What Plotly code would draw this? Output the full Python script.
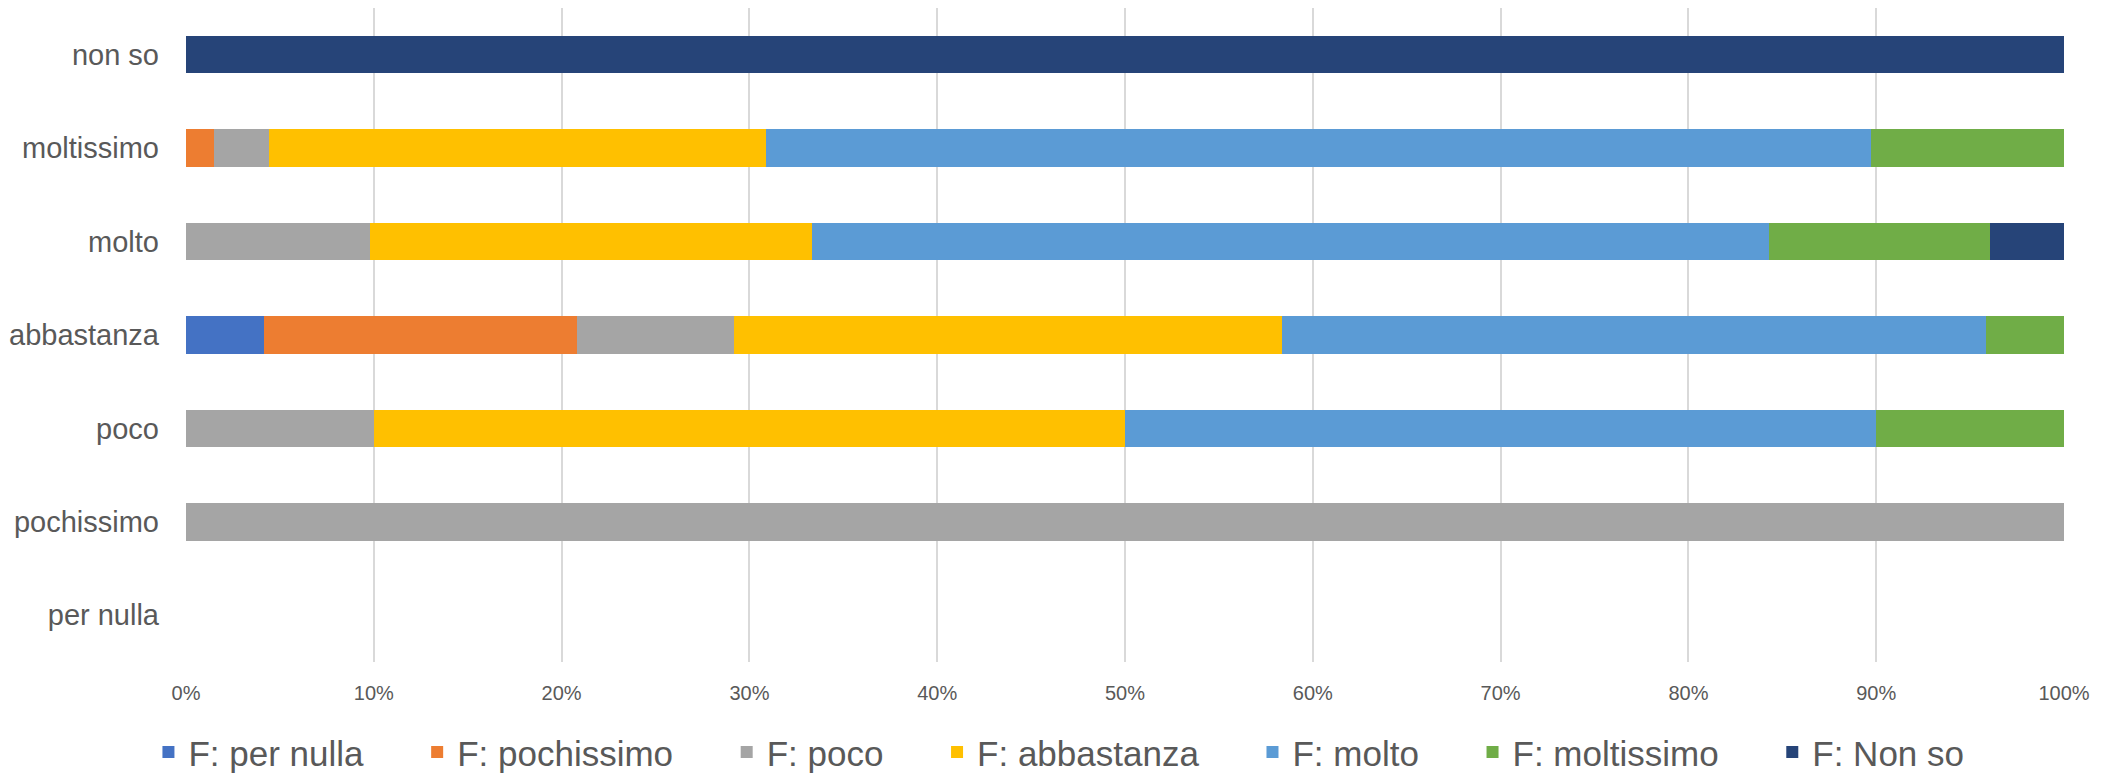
import plotly.graph_objects as go

categories = ["per nulla", "pochissimo", "poco", "abbastanza", "molto", "moltissimo", "non so"]

series_names = ["F: per nulla", "F: pochissimo", "F: poco", "F: abbastanza",
                "F: molto", "F: moltissimo", "F: Non so"]

per_nulla   = [0, 0, 0, 4.17, 0, 0, 0]
pochissimo  = [0, 0, 0, 16.67, 0, 1.47, 0]
poco        = [0, 100, 10, 8.33, 9.80, 2.94, 0]
abbastanza  = [0, 0, 40, 29.17, 23.53, 26.47, 0]
molto       = [0, 0, 40, 37.50, 50.98, 58.82, 0]
moltissimo  = [0, 0, 10, 4.17, 11.76, 10.29, 0]
non_so      = [0, 0, 0, 0, 3.92, 0, 100]

series_values = [per_nulla, pochissimo, poco, abbastanza, molto, moltissimo, non_so]
colors = ["#4472C4", "#ED7D31", "#A5A5A5", "#FFC000", "#5B9BD5", "#70AD47", "#264478"]

tick_vals = [0, 10, 20, 30, 40, 50, 60, 70, 80, 90, 100]
tick_text = ["0%", "10%", "20%", "30%", "40%", "50%", "60%", "70%", "80%", "90%", "100%"]

PAD = "\u00a0" * 5

fig = go.Figure()
for i, (name, vals, col) in enumerate(zip(series_names, series_values, colors)):
    label = name + (PAD if i < len(series_names) - 1 else "")
    fig.add_trace(go.Bar(
        y=categories, x=vals, name=label, orientation="h",
        marker=dict(color=col, line=dict(width=0)),
    ))

font_family = "Liberation Sans, Arial, sans-serif"
fig.update_layout(
    barmode="stack",
    bargap=0.6,
    width=2108, height=766,
    margin=dict(l=178, r=52, t=0, b=112, autoexpand=False),
    paper_bgcolor="white", plot_bgcolor="white",
    font=dict(family=font_family, color="#595959"),
    showlegend=True,
    legend=dict(orientation="h", x=-0.02, xanchor="left", y=-0.138, yanchor="middle",
                font=dict(size=35, color="#595959", family=font_family),
                traceorder="normal", itemwidth=30, bgcolor="rgba(0,0,0,0)"),
    xaxis=dict(range=[0, 100], tickvals=tick_vals, ticktext=tick_text,
               showgrid=True, gridcolor="#D9D9D9", gridwidth=1.5,
               zeroline=False, showline=False, automargin=False,
               tickfont=dict(size=20, color="#595959"),
               ticklabelstandoff=17, fixedrange=True),
    yaxis=dict(categoryorder="array", categoryarray=categories,
               showgrid=False, zeroline=False, showline=False, automargin=False,
               tickfont=dict(size=29, color="#595959"),
               ticklabelstandoff=26, fixedrange=True),
)

fig.write_html("out.html")
